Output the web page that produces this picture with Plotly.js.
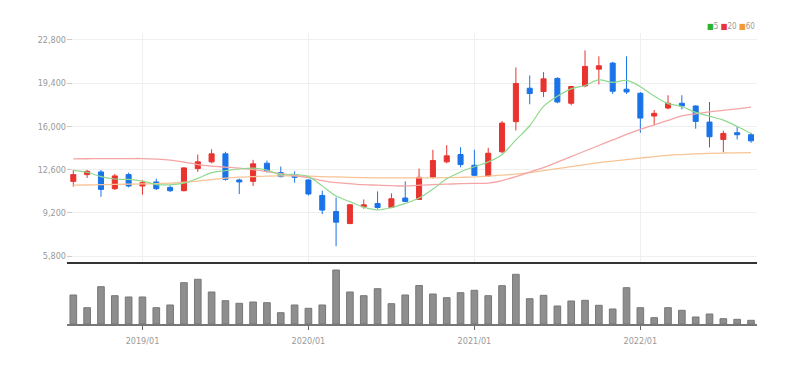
<!DOCTYPE html>
<html>
<head>
<meta charset="utf-8">
<script src="https://cdn.plot.ly/plotly-3.0.1.min.js"></script>
<style>
html,body{margin:0;padding:0;background:#fff;}
#chart{width:803px;height:365px;}
</style>
</head>
<body>
<div id="chart"></div>
<script>
const months = ['2018/08','2018/09','2018/10','2018/11','2018/12',
'2019/01','2019/02','2019/03','2019/04','2019/05','2019/06','2019/07','2019/08','2019/09','2019/10','2019/11','2019/12',
'2020/01','2020/02','2020/03','2020/04','2020/05','2020/06','2020/07','2020/08','2020/09','2020/10','2020/11','2020/12',
'2021/01','2021/02','2021/03','2021/04','2021/05','2021/06','2021/07','2021/08','2021/09','2021/10','2021/11','2021/12',
'2022/01','2022/02','2022/03','2022/04','2022/05','2022/06','2022/07','2022/08','2022/09'];

const openP  = [11675,12205,12418,11098,12205,11311,11627,11200,10940,12679,13209,13841,11786,11675,13098,12363,12150,11786,10567,9303,8354,9675,9935,9619,10362,10252,11991,13209,13786,12940,12102,14000,16372,19005,18744,19772,17819,19187,20507,20981,18926,18609,16814,17447,17819,17605,16340,14972,15502,15344];
const highP  = [12576,12576,12576,12260,12363,11786,11888,11359,12782,13786,14205,14000,11888,13367,13312,12837,12466,11833,10940,10410,9888,10252,10884,10726,11675,12679,14158,14521,14363,14158,14316,16419,20641,20009,20270,19874,19187,21986,21511,21084,21511,18700,17289,18451,18451,17660,17921,15660,15976,15502];
const lowP   = [11256,11944,10465,10995,11200,10623,10995,10836,10884,12418,13098,11730,10678,11311,12363,11991,11572,10567,9097,6567,8306,9516,9516,9571,10046,10204,11888,13098,12782,12102,12047,13889,15684,17740,18317,17819,17660,19084,19297,18554,18554,15502,16079,17344,17344,15818,14340,13968,14972,14711];
const closeP = [12205,12466,11042,12102,11311,11572,11098,10940,12735,13209,13841,11833,11627,13051,12466,12047,11991,10678,9413,8464,9833,9833,9619,10307,10094,11991,13312,13683,12995,12150,13889,16261,19376,18586,19740,17921,19139,20720,20768,18767,18712,16656,17028,17819,17605,16395,15186,15447,15344,14869];

const volume = [2900000,1630000,3730000,2830000,2700000,2700000,1630000,1900000,4130000,4470000,3200000,2330000,2070000,2200000,2130000,1130000,1900000,1570000,1900000,5400000,3200000,2830000,3530000,2030000,2900000,3850000,3000000,2630000,3130000,3370000,2830000,3830000,4970000,2530000,2870000,1800000,2300000,2370000,1870000,1500000,3630000,1630000,630000,1630000,1370000,700000,1000000,530000,470000,370000];

const ma5  = [12540,12390,12050,11860,11825,11699,11425,11405,11531,11911,12365,12512,12649,12712,12564,12205,12236,12047,11319,10519,10076,9644,9432,9611,9937,10369,11065,11877,12415,12826,13206,13796,14934,16052,17570,18377,18952,19221,19658,19463,19621,19125,18386,17796,17564,17101,16807,16490,15995,15448];
const ma20 = [13446,13454,13470,13470,13470,13470,13430,13351,13193,12996,12877,12798,12719,12601,12443,12285,12126,11968,11731,11573,11494,11415,11375,11336,11312,11375,11415,11454,11494,11517,11533,11731,12047,12402,12760,13193,13628,14063,14498,14933,15368,15763,16119,16475,16830,16989,17147,17265,17384,17518];
const ma60 = [11374,11390,11414,11430,11453,11477,11493,11532,11611,11690,11809,11928,12007,12046,12086,12102,12102,12086,12046,12023,11991,11967,11952,11944,11944,11944,11952,11967,11991,12023,12086,12165,12244,12363,12521,12679,12837,12995,13154,13272,13391,13509,13628,13723,13786,13841,13881,13905,13921,13944];

const yearTicks = ['2019/01','2020/01','2021/01','2022/01'];
const priceTicks = [5800, 9200, 12600, 16000, 19400, 22800];
const maLabels = ['5','20','60'];

const upColor = '#e8332f', downColor = '#1a73e8';
const maColors = ['#8fd98f','#f5a5a5','#f8c496'];
const legendColors = ['#2cb52c','#e8333a','#f39a2e'];
const tickFont = {family:'"Liberation Sans Narrow","DejaVu Sans Condensed",sans-serif', size:9, color:'#999'};

const traces = [
  {type:'bar', x:months, y:volume, xaxis:'x', yaxis:'y', width:0.48,
   marker:{color:'#8e8e8e', line:{color:'#777', width:1}}, hoverinfo:'skip', showlegend:false},
  {type:'scatter', mode:'lines', x:months, y:ma60, xaxis:'x2', yaxis:'y2',
   line:{color:maColors[2], width:1.3, shape:'spline', smoothing:1}, showlegend:false},
  {type:'scatter', mode:'lines', x:months, y:ma20, xaxis:'x2', yaxis:'y2',
   line:{color:maColors[1], width:1.3, shape:'spline', smoothing:1}, showlegend:false},
  {type:'scatter', mode:'lines', x:months, y:ma5, xaxis:'x2', yaxis:'y2',
   line:{color:maColors[0], width:1.2, shape:'spline', smoothing:1}, showlegend:false},
  {type:'candlestick', x:months, open:openP, high:highP, low:lowP, close:closeP,
   xaxis:'x2', yaxis:'y2', whiskerwidth:0,
   increasing:{line:{color:upColor, width:1}, fillcolor:upColor},
   decreasing:{line:{color:downColor, width:1}, fillcolor:downColor},
   showlegend:false}
];

const legendText = maLabels.map((l,i)=>'<span style="color:'+legendColors[i]+'">■</span>'+l).join(' ');

const xRange = [-0.456, 49.434];
const layout = {
  width:803, height:365,
  margin:{l:67, r:46, t:33, b:41},
  paper_bgcolor:'#fff', plot_bgcolor:'#fff',
  showlegend:false,
  bargap:0,
  boxgap:0.48,
  xaxis:{type:'category', domain:[0,1], anchor:'y', range:xRange,
    tickvals:yearTicks, ticktext:yearTicks, ticks:'outside', ticklen:4, tickcolor:'#666', tickwidth:1,
    showline:true, linecolor:'#777', linewidth:2, showgrid:false, zeroline:false,
    tickfont:tickFont, ticklabelstandoff:3, rangeslider:{visible:false}, fixedrange:true},
  xaxis2:{type:'category', domain:[0,1], anchor:'y2', matches:'x', range:xRange,
    tickvals:yearTicks, showticklabels:false, ticks:'',
    showline:true, linecolor:'#333', linewidth:2, showgrid:true, gridcolor:'#efefef', gridwidth:1,
    zeroline:false, rangeslider:{visible:false}},
  yaxis:{domain:[0,0.2131], anchor:'x', range:[0,6200000], showticklabels:false,
    showgrid:false, zeroline:false, ticks:''},
  yaxis2:{domain:[0.2131,1], anchor:'x2', range:[5330,23350],
    tickvals:priceTicks, tickformat:',d', ticks:'inside', ticklen:5, tickcolor:'#ccc',
    showgrid:true, gridcolor:'#efefef', gridwidth:1, zeroline:false, showline:false,
    tickfont:tickFont},
  annotations:[{xref:'paper', yref:'paper', x:1, y:1.0, xanchor:'right', yanchor:'bottom',
    text:legendText, showarrow:false, font:{family:'"Liberation Sans Narrow","DejaVu Sans Condensed",sans-serif', size:8, color:'#999'}}]
};

Plotly.newPlot('chart', traces, layout, {displayModeBar:false, staticPlot:true});
</script>
</body>
</html>
